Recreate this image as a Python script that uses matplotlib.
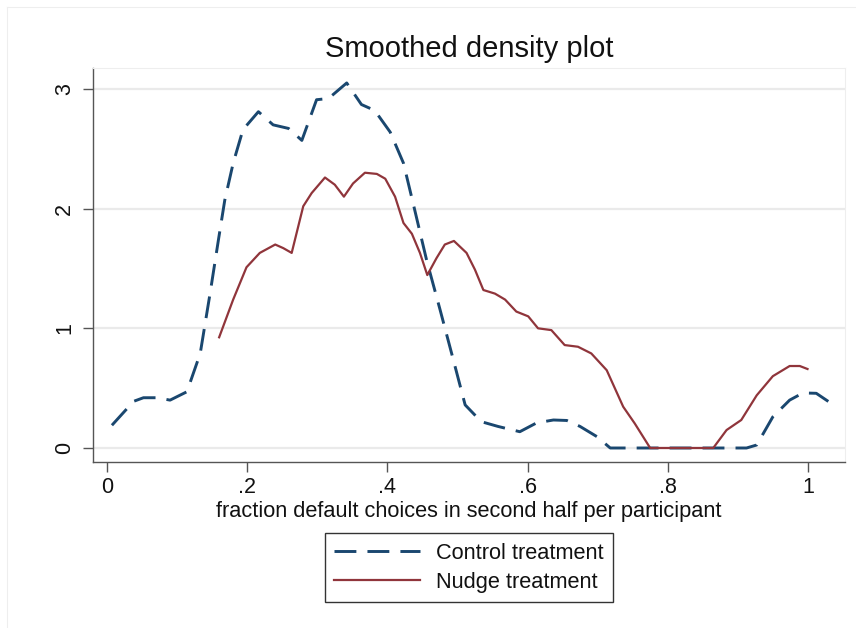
import matplotlib
matplotlib.use("Agg")
import matplotlib.pyplot as plt
from matplotlib.lines import Line2D

plt.rcParams['font.family'] = ['Liberation Sans', 'DejaVu Sans']

title = "Smoothed density plot"
xlabel = "fraction default choices in second half per participant"
series_names = ["Control treatment", "Nudge treatment"]
xticks = [0, 0.2, 0.4, 0.6, 0.8, 1.0]
xticklabels = ["0", ".2", ".4", ".6", ".8", "1"]
yticks = [0, 1, 2, 3]
yticklabels = ["0", "1", "2", "3"]

control_x = [0.007, 0.038, 0.052, 0.071, 0.090, 0.114, 0.133, 0.147, 0.159, 0.168, 0.180,
             0.194, 0.216, 0.237, 0.259, 0.278, 0.299, 0.316, 0.342, 0.363, 0.382, 0.404,
             0.423, 0.439, 0.456, 0.475, 0.494, 0.511, 0.534, 0.558, 0.589, 0.613, 0.637,
             0.656, 0.675, 0.699, 0.718, 0.80, 0.9125, 0.927, 0.950, 0.974, 0.993, 1.012, 1.034]
control_y = [0.19, 0.39, 0.42, 0.42, 0.40, 0.47, 0.79, 1.29, 1.74, 2.07, 2.38,
             2.66, 2.81, 2.70, 2.67, 2.57, 2.91, 2.92, 3.05, 2.87, 2.82, 2.64,
             2.38, 1.99, 1.57, 1.16, 0.74, 0.36, 0.22, 0.18, 0.136, 0.21, 0.234,
             0.23, 0.18, 0.095, 0.0, 0.0, 0.0, 0.025, 0.26, 0.40, 0.46, 0.457, 0.37]

nudge_x = [0.160, 0.180, 0.199, 0.218, 0.240, 0.2515, 0.2635, 0.280, 0.292, 0.311, 0.325,
           0.338, 0.351, 0.368, 0.385, 0.397, 0.411, 0.423, 0.435, 0.4465, 0.457, 0.470,
           0.482, 0.495, 0.513, 0.525, 0.537, 0.5535, 0.568, 0.584, 0.601, 0.615, 0.634,
           0.653, 0.672, 0.691, 0.713, 0.7365, 0.753, 0.775, 0.82, 0.865, 0.884, 0.905,
           0.927, 0.950, 0.974, 0.9885, 0.9995]
nudge_y = [0.925, 1.24, 1.51, 1.63, 1.70, 1.67, 1.63, 2.02, 2.13, 2.26, 2.20,
           2.10, 2.21, 2.30, 2.29, 2.25, 2.10, 1.88, 1.79, 1.63, 1.445, 1.585,
           1.70, 1.73, 1.63, 1.49, 1.32, 1.29, 1.24, 1.14, 1.10, 1.00, 0.985,
           0.86, 0.846, 0.79, 0.65, 0.345, 0.205, 0.0, 0.0, 0.0, 0.15, 0.234,
           0.44, 0.60, 0.685, 0.685, 0.66]

navy = "#1a476f"
maroon = "#90353b"

fig = plt.figure(figsize=(8.56, 6.28), dpi=100)
# faint outer graph-region outline (top and left edges visible)
fig.add_artist(Line2D([7/856, 1.0], [1 - 7/628, 1 - 7/628], transform=fig.transFigure,
                      color="#eeeeee", linewidth=0.8))
fig.add_artist(Line2D([7/856, 7/856], [0.0, 1 - 7/628], transform=fig.transFigure,
                      color="#eeeeee", linewidth=0.8))

ax = fig.add_axes([93/856, 1 - 462/628, (845 - 93)/856, (462 - 68)/628])

for yv in yticks:
    ax.axhline(yv, color="#eaeaea", linewidth=1.6, zorder=0)

ax.plot(control_x, control_y, color=navy, linewidth=2.1, dashes=(7.5, 3.8), label=series_names[0],
        dash_capstyle="butt", dash_joinstyle="round")
ax.plot(nudge_x, nudge_y, color=maroon, linewidth=1.6, label=series_names[1],
        solid_joinstyle="round")

ax.set_xlim(-0.02, 1.053)
ax.set_ylim(-0.117, 3.175)
ax.set_xticks(xticks)
ax.set_xticklabels(xticklabels)
ax.set_yticks(yticks)
ax.set_yticklabels(yticklabels, rotation=90, va="center")

for s in ["top", "right"]:
    ax.spines[s].set_color("#eeeeee")
    ax.spines[s].set_linewidth(0.8)
for s in ["left", "bottom"]:
    ax.spines[s].set_color("#555555")
    ax.spines[s].set_linewidth(1.0)

ax.tick_params(axis="both", direction="out", length=7, width=1.0, color="#555555",
               labelsize=15.5, labelcolor="#111111")
ax.tick_params(axis="y", pad=6)
ax.tick_params(axis="x", pad=4)

ax.set_title(title, fontsize=21, pad=8, color="#111111")
ax.set_xlabel(xlabel, fontsize=15.7, labelpad=2, color="#111111")

leg = fig.legend(loc="center", bbox_to_anchor=(469/856, 1 - 567.7/628), frameon=True,
                 fancybox=False, edgecolor="black", fontsize=15.7, handlelength=3.9,
                 handletextpad=0.75, borderpad=0.42, labelspacing=0.38, borderaxespad=0)
leg.get_frame().set_linewidth(1.0)
for t in leg.get_texts():
    t.set_color("#111111")

fig.savefig("out.png", dpi=100)
